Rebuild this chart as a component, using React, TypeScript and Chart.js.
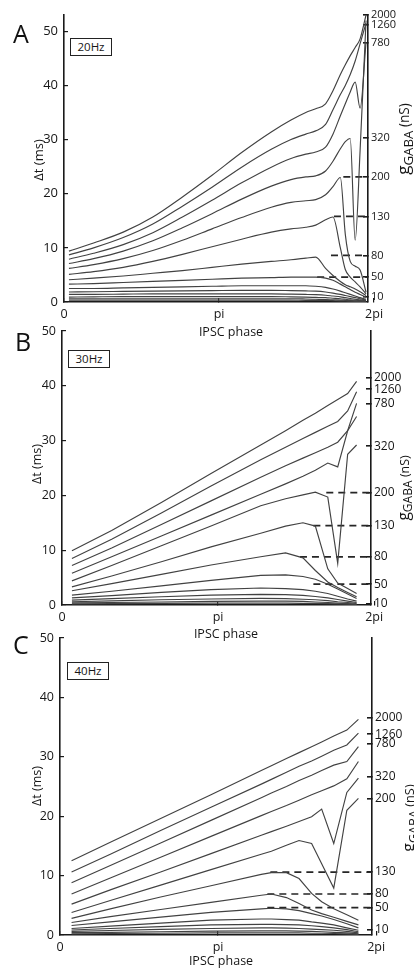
import React, { useEffect, useRef } from "react";
import { Chart, registerables } from "chart.js";

Chart.register(...registerables);

const FONT = "'Open Sans', 'DejaVu Sans', sans-serif";
const PI = Math.PI;

// shared x ticks
const xTickValues = [0, PI, 2 * PI];
const xTickLabels = ["0", "pi", "2pi"];
const yTickValues = [0, 10, 20, 30, 40, 50];
const gLabels = ["10", "50", "80", "130", "200", "320", "780", "1260", "2000"];

// ---------- Panel A : 20 Hz ----------
const phaseA = [0.1, 0.6, 1.2, 1.8, 2.4, 3.0, 3.6, 4.2, 4.6, 4.9, 5.1, 5.3, 5.45, 5.6, 5.7, 5.8, 5.9, 6.0, 6.12];
const a1 = [9.4, 10.9, 12.9, 15.7, 19.4, 23.4, 27.6, 31.4, 33.6, 35.0, 35.7, 36.6, 39.0, 42.0, 43.8, 45.5, 47.0, 48.6, 53.0];
const a2 = [8.7, 10.0, 11.9, 14.4, 17.7, 21.2, 24.9, 28.2, 30.0, 31.0, 31.6, 32.8, 35.5, 38.3, 40.0, 42.0, 44.5, 47.7, 51.5];
const a3 = [7.9, 9.0, 10.6, 12.8, 15.7, 18.8, 22.0, 24.9, 26.5, 27.3, 27.7, 28.6, 31.0, 34.4, 36.6, 38.8, 40.6, 35.8, 48.0];
const a4 = [7.1, 8.0, 9.4, 11.3, 13.7, 16.3, 19.0, 21.4, 22.6, 23.1, 23.3, 24.2, 26.0, 28.3, 29.6, 30.2, 11.4, 28.0, 52.0];
const a5 = [6.2, 6.9, 8.0, 9.5, 11.4, 13.5, 15.6, 17.5, 18.4, 18.7, 18.9, 19.8, 21.3, 23.0, 12.5, 7.5, 6.6, 5.9, 1.8];
const a6 = [5.1, 5.6, 6.4, 7.5, 8.8, 10.2, 11.6, 12.9, 13.5, 13.8, 14.2, 15.2, 15.7, 10.0, 6.0, 4.6, 3.7, 2.8, 1.5];
const a7 = [4.1, 4.4, 4.8, 5.3, 5.8, 6.4, 7.0, 7.5, 7.8, 8.1, 8.3, 6.2, 4.9, 3.8, 3.2, 2.8, 2.4, 1.9, 1.2];
const a8 = [3.3, 3.4, 3.6, 3.8, 4.0, 4.2, 4.4, 4.5, 4.6, 4.6, 4.6, 4.4, 4.0, 3.3, 2.8, 2.3, 1.8, 1.4, 0.9];
const a9 = [2.5, 2.5, 2.6, 2.7, 2.8, 2.9, 3.0, 3.0, 3.0, 3.0, 2.9, 2.7, 2.4, 2.0, 1.7, 1.4, 1.1, 0.8, 0.5];
const a10 = [1.85, 1.9, 1.95, 2.0, 2.05, 2.1, 2.15, 2.15, 2.1, 2.05, 2.0, 1.85, 1.65, 1.4, 1.2, 1.0, 0.8, 0.6, 0.35];
const a11 = [1.4, 1.4, 1.45, 1.5, 1.5, 1.5, 1.5, 1.5, 1.45, 1.4, 1.35, 1.25, 1.1, 0.95, 0.8, 0.65, 0.5, 0.4, 0.25];
const a12 = [0.9, 0.95, 1.0, 1.0, 1.0, 1.0, 1.0, 1.0, 0.95, 0.9, 0.85, 0.8, 0.7, 0.6, 0.5, 0.4, 0.35, 0.25, 0.15];
const a13 = [0.6, 0.6, 0.6, 0.6, 0.6, 0.6, 0.6, 0.6, 0.6, 0.55, 0.5, 0.45, 0.4, 0.35, 0.3, 0.25, 0.2, 0.15, 0.1];
const a14 = [0.35, 0.35, 0.35, 0.35, 0.35, 0.35, 0.35, 0.35, 0.35, 0.3, 0.3, 0.3, 0.25, 0.2, 0.2, 0.15, 0.12, 0.1, 0.05];
const gValuesA = [0.9, 4.6, 8.6, 15.8, 23.1, 30.3, 47.9, 51.1, 53.0];
const dashLevelsA = [4.6, 8.6, 15.8, 23.1];
const dashStartA = [5.13, 5.41, 5.47, 5.66];

// ---------- Panel B : 30 Hz ----------
const phaseB = [0.2, 1.0, 2.0, 3.0, 4.0, 4.5, 4.85, 5.1, 5.35, 5.55, 5.75, 5.93];
const b1 = [9.9, 13.6, 18.7, 24.0, 29.2, 31.8, 33.7, 35.0, 36.4, 37.5, 38.6, 40.8];
const b2 = [8.5, 12.0, 16.8, 21.7, 26.5, 28.8, 30.4, 31.5, 32.6, 33.5, 35.4, 38.9];
const b3 = [7.2, 10.4, 14.7, 19.0, 23.3, 25.4, 26.8, 27.8, 28.8, 29.7, 31.8, 36.8];
const b4 = [5.8, 8.8, 12.6, 16.4, 20.2, 22.1, 23.5, 24.6, 25.9, 25.2, 31.8, 34.4];
const b5 = [4.4, 7.2, 10.8, 14.4, 18.1, 19.4, 20.1, 20.6, 19.7, 7.6, 27.5, 29.2];
const b6 = [3.3, 5.3, 7.9, 10.6, 13.1, 14.4, 15.0, 14.4, 6.6, 4.0, 3.0, 2.1];
const b7 = [2.6, 3.9, 5.6, 7.3, 8.8, 9.5, 8.6, 6.3, 4.2, 3.2, 2.3, 1.5];
const b8 = [1.8, 2.5, 3.5, 4.5, 5.4, 5.5, 5.2, 4.7, 3.8, 2.9, 2.0, 1.2];
const b9 = [1.3, 1.7, 2.3, 2.8, 3.1, 3.0, 2.8, 2.5, 2.1, 1.6, 1.1, 0.7];
const b10 = [0.9, 1.15, 1.5, 1.8, 1.95, 1.9, 1.75, 1.55, 1.3, 1.0, 0.7, 0.45];
const b11 = [0.6, 0.75, 0.95, 1.1, 1.2, 1.15, 1.05, 0.95, 0.8, 0.6, 0.45, 0.3];
const b12 = [0.4, 0.45, 0.55, 0.65, 0.7, 0.7, 0.65, 0.55, 0.45, 0.35, 0.25, 0.15];
const b13 = [0.2, 0.25, 0.3, 0.35, 0.35, 0.35, 0.3, 0.3, 0.25, 0.2, 0.15, 0.1];
const gValuesB = [0.3, 3.8, 8.8, 14.5, 20.5, 29.0, 36.7, 39.4, 41.5];
const dashLevelsB = [3.8, 8.8, 14.5, 20.5];
const dashStartB = [5.06, 4.79, 5.06, 5.32];

// ---------- Panel C : 40 Hz ----------
const phaseC = [0.23, 1.0, 2.0, 3.0, 4.0, 4.2, 4.5, 4.75, 5.0, 5.2, 5.44, 5.7, 5.93];
const c1 = [12.5, 15.6, 19.6, 23.6, 27.7, 28.5, 29.7, 30.7, 31.7, 32.5, 33.5, 34.5, 36.3];
const c2 = [10.6, 13.6, 17.6, 21.5, 25.4, 26.2, 27.4, 28.4, 29.3, 30.1, 31.1, 32.0, 34.0];
const c3 = [8.8, 11.7, 15.5, 19.3, 23.1, 23.9, 25.0, 26.0, 26.9, 27.7, 28.6, 29.2, 31.7];
const c4 = [6.9, 9.6, 13.1, 16.6, 20.1, 20.8, 21.8, 22.7, 23.6, 24.3, 25.1, 26.3, 29.2];
const c5 = [5.2, 7.6, 10.6, 13.7, 16.8, 17.4, 18.3, 19.1, 19.9, 21.2, 15.4, 24.0, 26.4];
const c6 = [3.8, 5.8, 8.4, 11.0, 13.6, 14.1, 15.1, 15.9, 15.4, 12.0, 7.9, 21.0, 23.0];
const c7 = [2.8, 4.4, 6.4, 8.3, 10.2, 10.5, 10.5, 9.5, 7.0, 5.6, 4.4, 3.4, 2.5];
const c8 = [2.1, 3.1, 4.3, 5.5, 6.7, 6.9, 6.3, 5.3, 4.2, 3.6, 3.0, 2.3, 1.7];
const c9 = [1.6, 2.2, 3.0, 3.8, 4.4, 4.5, 4.4, 4.1, 3.6, 3.2, 2.6, 1.9, 1.2];
const c10 = [1.1, 1.5, 2.0, 2.5, 2.7, 2.7, 2.6, 2.5, 2.2, 2.0, 1.7, 1.2, 0.8];
const c11 = [0.85, 1.1, 1.4, 1.7, 1.8, 1.8, 1.75, 1.7, 1.55, 1.4, 1.2, 0.9, 0.55];
const c12 = [0.6, 0.75, 0.95, 1.1, 1.2, 1.2, 1.15, 1.1, 1.0, 0.9, 0.8, 0.6, 0.35];
const c13 = [0.4, 0.45, 0.55, 0.65, 0.7, 0.7, 0.7, 0.65, 0.6, 0.55, 0.45, 0.35, 0.2];
const c14 = [0.2, 0.25, 0.3, 0.35, 0.35, 0.35, 0.35, 0.35, 0.3, 0.3, 0.25, 0.2, 0.1];
const gValuesC = [0.85, 4.6, 6.9, 10.6, 23.0, 26.7, 32.2, 33.8, 36.6];
const dashLevelsC = [4.6, 6.9, 10.6];
const dashStartC = [4.12, 4.12, 4.18];

type PanelCfg = {
  top: number;
  height: number;
  area: { left: number; right: number; top: number; bottom: number };
  xMax: number;
  yMax: number;
  phase: number[];
  curves: number[][];
  gValues: number[];
  dashLevels: number[];
  dashStart: number[];
  smooth: boolean;
  gFont: number;
  yFont: number;
};

const panels: PanelCfg[] = [
  {
    top: 0, height: 345, area: { left: 64, right: 368, top: 15, bottom: 302 },
    xMax: 6.16, yMax: 53, phase: phaseA,
    curves: [a1, a2, a3, a4, a5, a6, a7, a8, a9, a10, a11, a12, a13, a14],
    gValues: gValuesA, dashLevels: dashLevelsA, dashStart: dashStartA, smooth: true, gFont: 11, yFont: 13,
  },
  {
    top: 320, height: 325, area: { left: 62, right: 371, top: 331, bottom: 605 },
    xMax: 6.22, yMax: 50, phase: phaseB,
    curves: [b1, b2, b3, b4, b5, b6, b7, b8, b9, b10, b11, b12, b13],
    gValues: gValuesB, dashLevels: dashLevelsB, dashStart: dashStartB, smooth: false, gFont: 12, yFont: 12.5,
  },
  {
    top: 630, height: 340, area: { left: 60, right: 372, top: 638, bottom: 935 },
    xMax: 6.2, yMax: 50, phase: phaseC,
    curves: [c1, c2, c3, c4, c5, c6, c7, c8, c9, c10, c11, c12, c13, c14],
    gValues: gValuesC, dashLevels: dashLevelsC, dashStart: dashStartC, smooth: false, gFont: 12, yFont: 12.5,
  },
];

const AXIS = "#1a1a1a";
const TEXT = "#161616";

function Panel({ cfg }: { cfg: PanelCfg }) {
  const ref = useRef<HTMLCanvasElement>(null);
  useEffect(() => {
    if (!ref.current) return;
    const datasets: any[] = cfg.curves.map((ys) => ({
      data: cfg.phase.map((x, i) => ({ x, y: ys[i] })),
      borderColor: "#424242",
      borderWidth: 1.15,
      pointRadius: 0,
      fill: false,
      tension: 0,
      cubicInterpolationMode: cfg.smooth ? "monotone" : "default",
      xAxisID: "x",
      yAxisID: "y",
    }));
    cfg.dashLevels.forEach((lv, i) => {
      datasets.push({
        data: [
          { x: cfg.dashStart[i], y: lv },
          { x: cfg.xMax, y: lv },
        ],
        borderColor: "#262626",
        borderWidth: 1.7,
        borderDash: [7, 5],
        pointRadius: 0,
        fill: false,
        xAxisID: "x",
        yAxisID: "y",
      });
    });
    const W = 414;
    const chart = new Chart(ref.current, {
      type: "line",
      data: { datasets },
      options: {
        animation: false,
        responsive: false,
        maintainAspectRatio: false,
        events: [],
        layout: { padding: { top: cfg.area.top - cfg.top, left: 0, right: 0, bottom: 0 } },
        plugins: { legend: { display: false }, tooltip: { enabled: false } },
        scales: {
          x: {
            type: "linear",
            position: "bottom",
            min: 0,
            max: cfg.xMax,
            afterBuildTicks: (s: any) => {
              s.ticks = xTickValues.map((v) => ({ value: v }));
            },
            afterFit: (s: any) => {
              s.height = cfg.top + cfg.height - cfg.area.bottom;
              s.paddingLeft = 0;
              s.paddingRight = 0;
            },
            ticks: {
              autoSkip: false,
              maxRotation: 0,
              padding: 9,
              color: TEXT,
              font: { family: FONT, size: 12.5 },
              callback: (_v: any, i: number) => xTickLabels[i],
            },
            grid: { drawOnChartArea: false, drawTicks: true, tickLength: -4, color: AXIS, lineWidth: 1.2 },
            border: { display: true, color: AXIS, width: 1.6 },
          },
          y: {
            type: "linear",
            position: "left",
            min: 0,
            max: cfg.yMax,
            afterBuildTicks: (s: any) => {
              s.ticks = yTickValues.map((v) => ({ value: v }));
            },
            afterFit: (s: any) => {
              s.width = cfg.area.left;
              s.paddingTop = 0;
              s.paddingBottom = 0;
            },
            ticks: {
              padding: 10,
              color: TEXT,
              font: { family: FONT, size: cfg.yFont },
              callback: (v: any) => String(v),
            },
            grid: { drawOnChartArea: false, drawTicks: true, tickLength: -4, color: AXIS, lineWidth: 1.2 },
            border: { display: true, color: AXIS, width: 1.6 },
          },
          g: {
            type: "linear",
            position: "right",
            min: 0,
            max: cfg.yMax,
            afterBuildTicks: (s: any) => {
              s.ticks = cfg.gValues.map((v) => ({ value: v }));
            },
            afterFit: (s: any) => {
              s.width = W - cfg.area.right;
              s.paddingTop = 0;
              s.paddingBottom = 0;
            },
            ticks: {
              autoSkip: false,
              padding: 8,
              color: TEXT,
              font: { family: FONT, size: cfg.gFont },
              callback: (_v: any, i: number) => gLabels[i],
            },
            grid: { drawOnChartArea: false, drawTicks: true, tickLength: -5, color: AXIS, lineWidth: 1.6 },
            border: { display: true, color: AXIS, width: 1.6 },
          },
        },
      } as any,
    });
    return () => chart.destroy();
  }, [cfg]);
  return (
    <canvas
      ref={ref}
      width={414}
      height={cfg.height}
      style={{ position: "absolute", left: 0, top: cfg.top, width: 414, height: cfg.height }}
    />
  );
}

const letterStyle: React.CSSProperties = {
  position: "absolute",
  fontFamily: FONT,
  fontSize: 25,
  lineHeight: "25px",
  color: "#111",
};

function FreqBox({ left, top, text }: { left: number; top: number; text: string }) {
  return (
    <div
      style={{
        position: "absolute",
        left,
        top,
        width: 40,
        height: 16,
        border: "1.5px solid #222",
        fontFamily: FONT,
        fontSize: 11.5,
        lineHeight: "16px",
        textAlign: "center",
        color: TEXT,
        background: "#fff",
      }}
    >
      {text}
    </div>
  );
}

function RotLabel({ cx, cy, size, children }: { cx: number; cy: number; size: number; children: React.ReactNode }) {
  return (
    <div
      style={{
        position: "absolute",
        left: cx,
        top: cy,
        transform: "translate(-50%, -50%) rotate(-90deg)",
        whiteSpace: "nowrap",
        fontFamily: FONT,
        fontSize: size,
        lineHeight: 1,
        color: TEXT,
      }}
    >
      {children}
    </div>
  );
}

function GTitle({ cx, cy, size }: { cx: number; cy: number; size: number }) {
  return (
    <RotLabel cx={cx} cy={cy} size={size}>
      <span>g</span>
      <sub style={{ fontSize: "0.78em", verticalAlign: "-0.3em" }}>GABA</sub>
      <span style={{ fontSize: "0.8em" }}> (nS)</span>
    </RotLabel>
  );
}

function XTitle({ cx, cy }: { cx: number; cy: number }) {
  return (
    <div
      style={{
        position: "absolute",
        left: cx,
        top: cy,
        transform: "translate(-50%, -50%)",
        whiteSpace: "nowrap",
        fontFamily: FONT,
        fontSize: 12.5,
        lineHeight: 1,
        color: TEXT,
      }}
    >
      IPSC phase
    </div>
  );
}

export default function App() {
  return (
    <div style={{ position: "absolute", left: 0, top: 0, width: 414, height: 970, background: "#fff", overflow: "hidden" }}>
      {panels.map((p, i) => (
        <Panel key={i} cfg={p} />
      ))}
      <div style={{ ...letterStyle, left: 13, top: 21 }}>A</div>
      <div style={{ ...letterStyle, left: 15, top: 329 }}>B</div>
      <div style={{ ...letterStyle, left: 13, top: 632 }}>C</div>
      <FreqBox left={70} top={38} text="20Hz" />
      <FreqBox left={68} top={350} text="30Hz" />
      <FreqBox left={67} top={662} text="40Hz" />
      <RotLabel cx={38} cy={160} size={13}>Δt (ms)</RotLabel>
      <RotLabel cx={37} cy={464} size={12.5}>Δt (ms)</RotLabel>
      <RotLabel cx={37} cy={786} size={12.5}>Δt (ms)</RotLabel>
      <GTitle cx={405} cy={139} size={17} />
      <GTitle cx={405} cy={488} size={15.5} />
      <GTitle cx={410} cy={818} size={16} />
      <XTitle cx={231} cy={332} />
      <XTitle cx={226} cy={634} />
      <XTitle cx={221} cy={961} />
    </div>
  );
}
